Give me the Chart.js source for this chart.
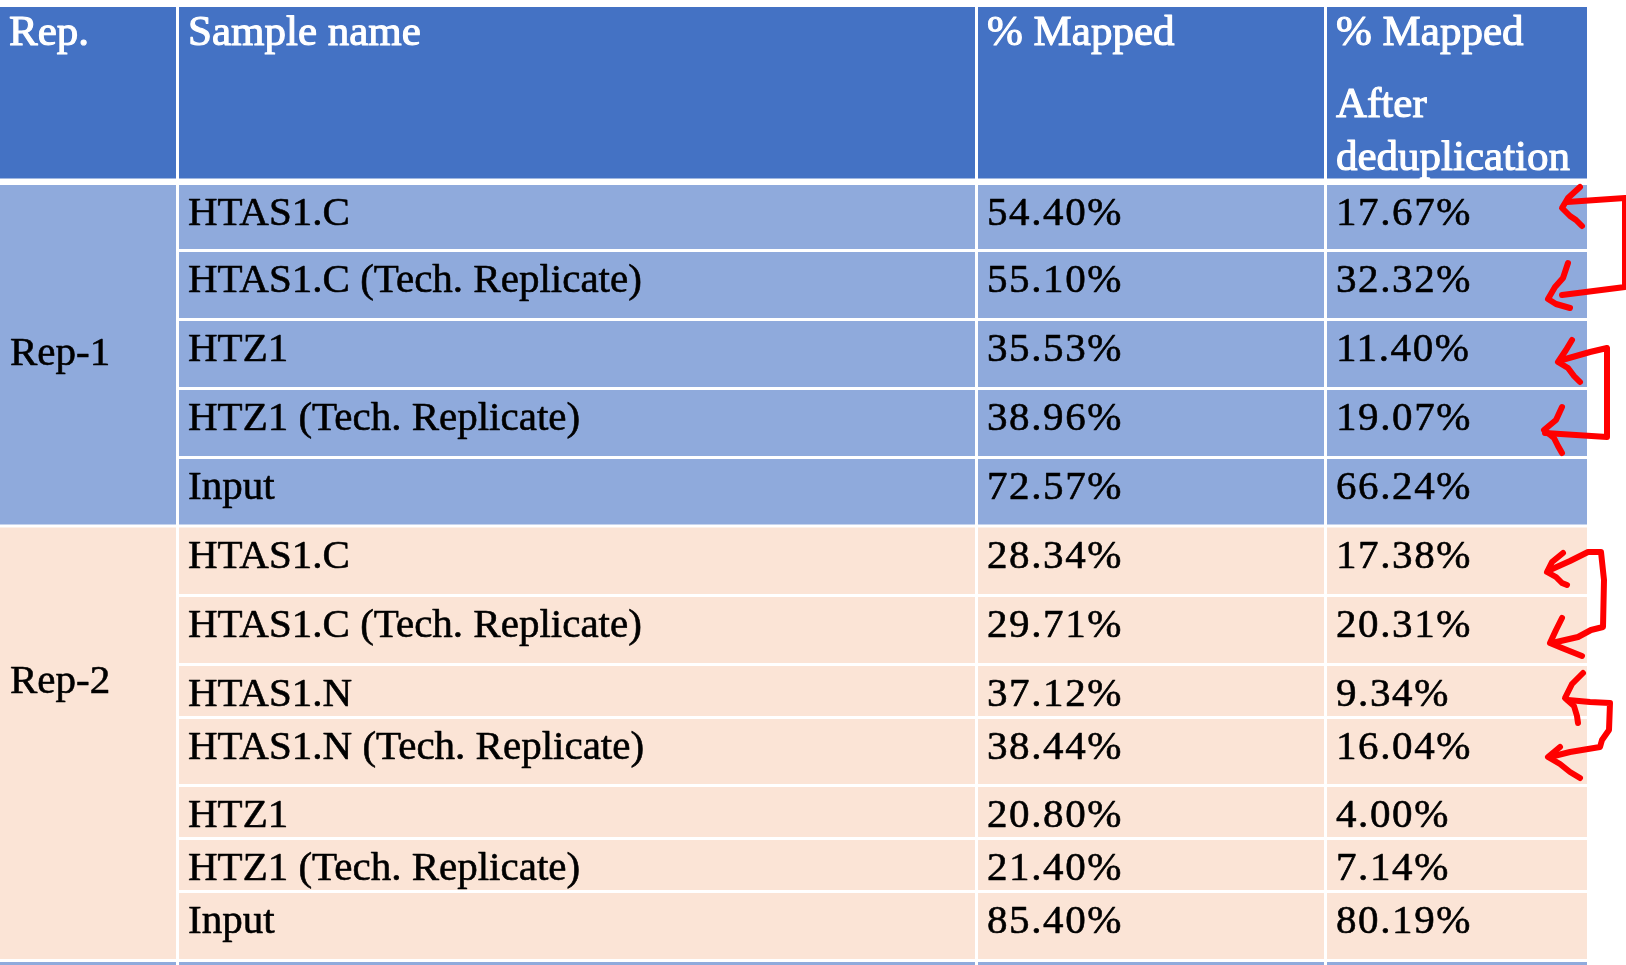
<!DOCTYPE html>
<html>
<head>
<meta charset="utf-8">
<title>Mapping table</title>
<script src="https://cdn.jsdelivr.net/npm/chart.js@4.4.1/dist/chart.umd.min.js"></script>
<style>
  html, body { margin: 0; padding: 0; background: #ffffff; }
  #wrap { width: 1626px; height: 965px; }
</style>
</head>
<body>
<div id="wrap"><canvas id="tableChart" width="1626" height="965"></canvas></div>
<script>
// --- Dados da tabela ---
const headers = [['Rep.'], ['Sample name'], ['% Mapped'], ['% Mapped', 'After', 'deduplication']];
const repLabels = ['Rep-1', 'Rep-2'];

const rep1Samples = ['HTAS1.C', 'HTAS1.C (Tech. Replicate)', 'HTZ1', 'HTZ1 (Tech. Replicate)', 'Input'];
const rep1Mapped = [54.40, 55.10, 35.53, 38.96, 72.57];
const rep1Dedup = [17.67, 32.32, 11.40, 19.07, 66.24];

const rep2Samples = ['HTAS1.C', 'HTAS1.C (Tech. Replicate)', 'HTAS1.N', 'HTAS1.N (Tech. Replicate)',
                     'HTZ1', 'HTZ1 (Tech. Replicate)', 'Input'];
const rep2Mapped = [28.34, 29.71, 37.12, 38.44, 20.80, 21.40, 85.40];
const rep2Dedup = [17.38, 20.31, 9.34, 16.04, 4.00, 7.14, 80.19];

// --- Layout (unidades da escala = pixels da página) ---
const colLines = [0, 177.5, 976.5, 1325.5, 1587];
const headerTop = 7;
const headerBottom = 181.5;
const rep1Lines = [181.5, 250.5, 319.5, 388.5, 457.5, 526];
const rep2Lines = [526, 595.5, 664.5, 717.5, 785.5, 838.5, 891.5, 960.5];
const repBaselines = [365, 693];
const headerBaselines = [38, 110, 163];

const COLORS = {
    header: '#4472C4',
    rep1: '#8FAADC',
    rep2: '#FBE4D6',
    arrow: '#FF0000'
};

// Setas desenhadas à mão (pontos na mesma escala)
const arrowStrokes = [
    // Rep-1, HTAS1.C
    [[1580, 187], [1568, 198], [1562, 208], [1570, 216], [1576, 220], [1582, 226]],
    [[1567, 202], [1625, 198], [1625, 287], [1562, 295]],
    [[1568, 263], [1563, 278], [1555, 287], [1548, 299], [1556, 304], [1570, 308]],
    // Rep-1, HTZ1
    [[1572, 340], [1566, 350], [1558, 362], [1568, 368], [1574, 376], [1580, 382]],
    [[1562, 360], [1590, 352], [1607, 348], [1607, 437], [1545, 433]],
    [[1562, 407], [1556, 420], [1544, 430], [1554, 438], [1558, 446], [1562, 453]],
    // Rep-2, HTAS1.C
    [[1563, 553], [1552, 562], [1547, 572], [1556, 577], [1562, 583], [1567, 585]],
    [[1550, 570], [1570, 561], [1588, 552], [1601, 552], [1604, 580], [1603, 627], [1591, 630], [1578, 637], [1552, 643]],
    [[1562, 618], [1556, 630], [1550, 643], [1562, 648], [1572, 652], [1582, 656]],
    // Rep-2, HTAS1.N
    [[1583, 673], [1572, 684], [1565, 698], [1574, 706], [1577, 716], [1578, 723]],
    [[1568, 700], [1590, 702], [1610, 703], [1609, 730], [1602, 740], [1600, 747], [1570, 752], [1550, 757]],
    [[1560, 747], [1554, 752], [1548, 757], [1560, 764], [1570, 772], [1580, 778]]
];

const fmt = v => v.toFixed(2) + '%';

const tablePlugin = {
    id: 'tablePlugin',
    beforeDatasetsDraw(chart) {
        const { ctx, scales: { x, y } } = chart;
        const px = v => x.getPixelForValue(v);
        const py = v => y.getPixelForValue(v);
        const gap = 1.5;

        const cell = (c0, c1, r0, r1, color, g0, g1) => {
            const left = px(c0) + (c0 === 0 ? 0 : gap);
            const right = px(c1) - (c1 === colLines[colLines.length - 1] ? 0 : gap);
            const top = py(r0) + g0;
            const bottom = py(r1) - g1;
            ctx.fillStyle = color;
            ctx.fillRect(left, top, right - left, bottom - top);
            return { left, top };
        };

        // texto um pouco mais encorpado (a fonte original é Cambria)
        const text = (t, tx, ty, color, weight) => {
            ctx.fillStyle = color;
            ctx.strokeStyle = color;
            ctx.lineWidth = weight;
            ctx.fillText(t, tx, ty);
            ctx.strokeText(t, tx, ty);
        };

        ctx.save();
        ctx.textBaseline = 'alphabetic';
        ctx.textAlign = 'left';
        ctx.lineJoin = 'round';

        // Cabeçalho
        headers.forEach((lines, c) => {
            const r = cell(colLines[c], colLines[c + 1], headerTop, headerBottom, COLORS.header, 0, 3);
            ctx.font = '43px "Liberation Serif"';
            lines.forEach((t, i) => text(t, r.left + 9, py(headerTop) + headerBaselines[i], '#ffffff', 1.1));
        });

        const drawGroup = (lines, samples, mapped, dedup, color, label, baseline) => {
            const last = lines.length - 1;
            const top0 = lines[0] === headerBottom ? 3.5 : gap;
            const rc = cell(colLines[0], colLines[1], lines[0], lines[last], color, top0, gap);
            ctx.font = '41px "Liberation Serif"';
            ctx.letterSpacing = '0px';
            text(label, rc.left + 10, py(baseline), '#000000', 0.6);
            samples.forEach((s, i) => {
                const g0 = i === 0 ? top0 : gap;
                const vals = [s, fmt(mapped[i]), fmt(dedup[i])];
                vals.forEach((t, k) => {
                    const r = cell(colLines[k + 1], colLines[k + 2], lines[i], lines[i + 1], color, g0, gap);
                    ctx.letterSpacing = k === 0 ? '0px' : '1.6px';
                    text(t, r.left + 9, r.top + 40, '#000000', 0.6);
                });
            });
            ctx.letterSpacing = '0px';
        };

        drawGroup(rep1Lines, rep1Samples, rep1Mapped, rep1Dedup, COLORS.rep1, repLabels[0], repBaselines[0]);
        drawGroup(rep2Lines, rep2Samples, rep2Mapped, rep2Dedup, COLORS.rep2, repLabels[1], repBaselines[1]);

        // Início da próxima linha (cortada na borda inferior)
        for (let c = 0; c < 4; c++) {
            cell(colLines[c], colLines[c + 1], 960.5, 1000, COLORS.rep1, gap, 0);
        }

        // Pequeno arco azul no canto superior esquerdo
        ctx.beginPath();
        ctx.ellipse(px(0), py(9), 16, 8, 0, Math.PI, 1.5 * Math.PI);
        ctx.lineTo(px(0), py(7));
        ctx.fillStyle = COLORS.header;
        ctx.fill();

        // Setas vermelhas
        ctx.strokeStyle = COLORS.arrow;
        ctx.lineWidth = 6;
        ctx.lineCap = 'round';
        arrowStrokes.forEach(pts => {
            ctx.beginPath();
            pts.forEach(([vx, vy], i) => {
                if (i === 0) ctx.moveTo(px(vx), py(vy));
                else ctx.lineTo(px(vx), py(vy));
            });
            ctx.stroke();
        });
        ctx.restore();
    }
};

const ctx = document.getElementById('tableChart').getContext('2d');
const tableChart = new Chart(ctx, {
    type: 'scatter',
    data: { datasets: [{ data: [], pointRadius: 0 }] },
    options: {
        responsive: false,
        animation: false,
        devicePixelRatio: 1,
        layout: { padding: 0 },
        plugins: { legend: { display: false }, tooltip: { enabled: false } },
        scales: {
            x: { type: 'linear', min: 0, max: 1626, display: false },
            y: { type: 'linear', min: 0, max: 965, reverse: true, display: false }
        }
    },
    plugins: [tablePlugin]
});
</script>
</body>
</html>
